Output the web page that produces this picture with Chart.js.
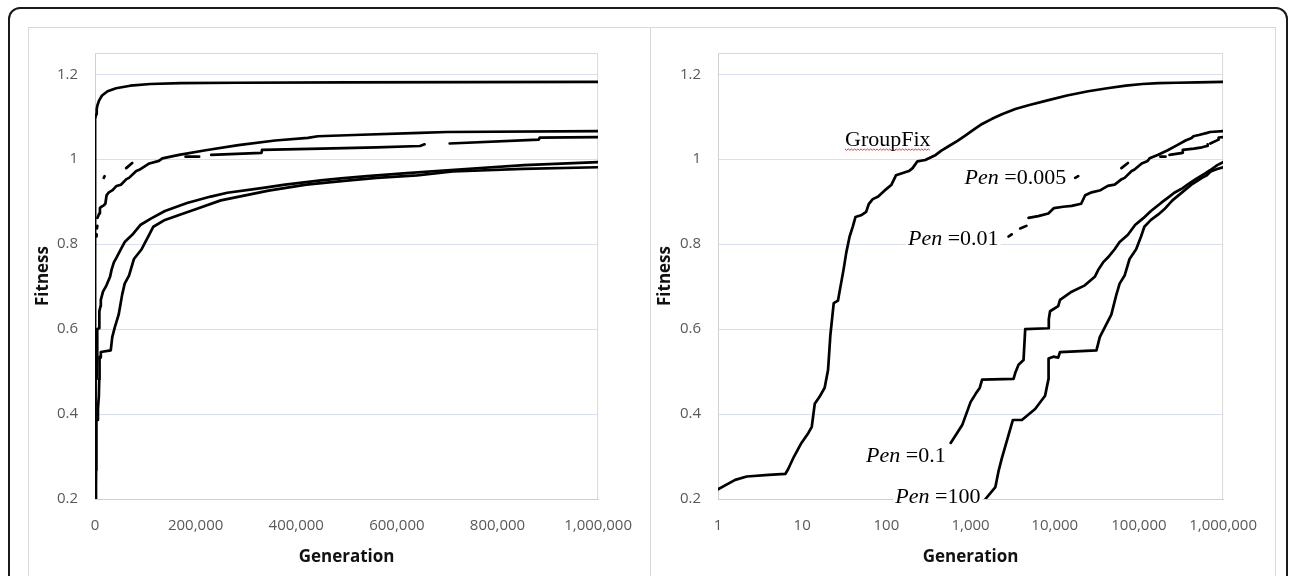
<!DOCTYPE html>
<html>
<head>
<meta charset="utf-8">
<script src="https://cdn.jsdelivr.net/npm/chart.js@4.4.1/dist/chart.umd.min.js"></script>
<style>
  body { margin: 0; background: #fff; width: 1290px; height: 576px; overflow: hidden; position: relative; }
  #frame { position: absolute; left: 8px; top: 7px; width: 1280px; height: 640px; border: 2px solid #1a1a1a; border-radius: 12px; box-sizing: border-box; }
  .box { position: absolute; top: 27px; height: 620px; border: 1px solid #d9d9d9; box-sizing: border-box; }
  #leftBox { left: 28px; width: 623px; }
  #rightBox { left: 650px; width: 626px; }
  canvas { position: absolute; top: 27px; }
  #fitLinear { left: 28px; }
  #fitLog { left: 650px; }
</style>
</head>
<body>
<div id="frame"></div>
<div class="box" id="leftBox"></div>
<div class="box" id="rightBox"></div>
<canvas id="fitLinear" width="622" height="549"></canvas>
<canvas id="fitLog" width="625" height="549"></canvas>
<script>
// 1: data (generation, fitness); null = gap in the line
const groupFixGen = [1, 1.6, 2.2, 4, 6.3, 6.8, 8, 9.8, 11.8, 13, 14.1, 16, 18.5, 20.3, 21.6, 23.7, 26.6, 28.5, 31, 33.4,
  36.6, 40, 43, 50, 57.5, 62, 68.9, 80, 99, 115, 130, 160, 185, 205, 234, 290, 386, 450, 555, 700,
  873, 1100, 1372, 1800, 2360, 3400, 4880, 8000, 14000, 25000, 42000, 70000, 110000, 170000, 280000, 500000, 1000000];
const groupFixFit = [0.223, 0.245, 0.253, 0.257, 0.259, 0.27, 0.3, 0.332, 0.355, 0.37, 0.424, 0.44, 0.462, 0.504, 0.585, 0.661, 0.667, 0.7, 0.74, 0.78,
  0.818, 0.842, 0.864, 0.868, 0.876, 0.895, 0.906, 0.912, 0.929, 0.94, 0.962, 0.968, 0.972, 0.979, 0.995, 0.998, 1.01, 1.02, 1.031, 1.043,
  1.056, 1.07, 1.083, 1.095, 1.106, 1.118, 1.127, 1.138, 1.15, 1.16, 1.167, 1.173, 1.177, 1.179, 1.18, 1.181, 1.182];

const pen0005Gen = [17500, 19000, 30000, 62000, 74000, 100000, 180000, 207000, 215000, 231000, 331000, 332000, 450000, 560000, 646000, 655000, 680000, 705000, 882000, 884000, 1000000];
const pen0005Fit = [0.956, 0.96, null, 0.979, 0.991, null, 1.006, 1.006, null, 1.01, 1.015, 1.022, 1.025, 1.028, 1.031, 1.035, null, 1.037, 1.046, 1.051, 1.052];

const pen001Gen = [2830, 3080, 3400, 3890, 4600, 4700, 4880, 6360, 8400, 9800, 12600, 15900, 20600, 23000, 27500, 35000, 42700, 51500, 62400, 67600,
  82000, 88000, 108000, 127000, 134000, 167000, 220000, 285000, 358000, 423000, 443000, 515000, 646000, 699000, 1000000];
const pen001Fit = [0.818, 0.823, null, 0.837, 0.843, null, 0.862, 0.866, 0.872, 0.885, 0.888, 0.89, 0.895, 0.915, 0.922, 0.927, 0.937, 0.94, 0.953, 0.956,
  0.972, 0.975, 0.99, 0.996, 1.002, 1.01, 1.021, 1.033, 1.044, 1.05, 1.054, 1.057, 1.062, 1.064, 1.066];

const pen01Gen = [581, 796, 1000, 1145, 1288, 1371, 3240, 3400, 3715, 4260, 4460, 8400, 8500, 8800, 11000, 11560, 15900, 22800, 29900, 33000,
  37500, 43000, 51500, 59000, 74000, 90000, 111000, 139000, 183000, 230000, 263000, 331000, 378000, 449000, 489000, 541000, 620000, 700000, 853000, 1000000];
const pen01Fit = [0.332, 0.374, 0.428, 0.447, 0.462, 0.481, 0.483, 0.497, 0.516, 0.527, 0.6, 0.602, 0.623, 0.642, 0.654, 0.669, 0.688, 0.703, 0.723, 0.74,
  0.757, 0.769, 0.788, 0.805, 0.822, 0.845, 0.86, 0.878, 0.897, 0.912, 0.921, 0.932, 0.94, 0.95, 0.955, 0.96, 0.967, 0.974, 0.986, 0.993];

const pen100Gen = [1503, 1972, 2158, 2360, 2830, 3185, 4070, 5850, 7680, 8400, 8450, 9620, 11000, 11560, 31300, 34300, 39300, 47000, 53800, 59000,
  67600, 77400, 92700, 106000, 116000, 139000, 170000, 200000, 250000, 345000, 420000, 495000, 560000, 640000, 711000, 850000, 1000000];
const pen100Fit = [0.2, 0.228, 0.267, 0.297, 0.351, 0.386, 0.386, 0.412, 0.443, 0.481, 0.531, 0.535, 0.533, 0.546, 0.55, 0.581, 0.604, 0.634, 0.68, 0.707,
  0.726, 0.765, 0.788, 0.818, 0.841, 0.857, 0.87, 0.882, 0.903, 0.926, 0.94, 0.949, 0.956, 0.962, 0.971, 0.977, 0.981];

// tick labels
const fitnessTicks = [0.2, 0.4, 0.6, 0.8, 1, 1.2];
const linearGenTicks = [0, 200000, 400000, 600000, 800000, 1000000];
const logGenTicks = [1, 10, 100, 1000, 10000, 100000, 1000000];

// curve labels on the log chart (anchor in generation / fitness units)
const noteText = ['GroupFix', 'Pen =0.005', 'Pen =0.01', 'Pen =0.1', 'Pen =100'];
const noteGen = [104, 13670, 2153, 506, 1309];
const noteFit = [1.032, 0.9425, 0.797, 0.287, 0.1915];

// 2: prepare data for chart
function toPoints(gen, fit) {
  return gen.map((g, i) => ({ x: g, y: fit[i] }));
}

const allSeries = [
  { label: 'GroupFix', gen: groupFixGen, fit: groupFixFit },
  { label: 'Pen=0.005', gen: pen0005Gen, fit: pen0005Fit },
  { label: 'Pen=0.01', gen: pen001Gen, fit: pen001Fit },
  { label: 'Pen=0.1', gen: pen01Gen, fit: pen01Fit },
  { label: 'Pen=100', gen: pen100Gen, fit: pen100Fit }
];

const tickFont = { family: '"Open Sans", sans-serif', size: 15 };
const titleFont = { family: '"Open Sans", sans-serif', size: 17, weight: 'bold' };

// light grey frame round the plot area
const plotFrame = {
  id: 'plotFrame',
  beforeDatasetsDraw(chart) {
    const a = chart.chartArea, ctx = chart.ctx;
    ctx.save();
    ctx.strokeStyle = '#d9d9d9';
    ctx.lineWidth = 1;
    ctx.beginPath();
    ctx.moveTo(a.left, a.top + 0.5);
    ctx.lineTo(a.right - 0.5, a.top + 0.5);
    ctx.lineTo(a.right - 0.5, a.bottom);
    ctx.stroke();
    ctx.restore();
  }
};

// text labels next to the curves
const curveNotes = {
  id: 'curveNotes',
  afterDraw(chart, args, opts) {
    if (!opts.show) return;
    const ctx = chart.ctx, xs = chart.scales.x, ys = chart.scales.y;
    const upright = '22px "Liberation Serif", "Times New Roman", serif';
    const italic = 'italic ' + upright;
    ctx.save();
    ctx.textBaseline = 'alphabetic';
    ctx.textAlign = 'left';
    noteText.forEach((txt, i) => {
      const px = xs.getPixelForValue(noteGen[i]);
      const py = ys.getPixelForValue(noteFit[i]);
      if (txt.startsWith('Pen ')) {
        const rest = txt.slice(3);
        ctx.font = italic;
        const w1 = ctx.measureText('Pen').width;
        ctx.font = upright;
        const w2 = ctx.measureText(rest).width;
        const left = px - w1 - w2;
        ctx.fillStyle = '#fff';
        ctx.fillRect(left - 2, py - 17, w1 + w2 + 4, 22);
        ctx.fillStyle = '#000';
        ctx.font = italic;
        ctx.fillText('Pen', left, py);
        ctx.font = upright;
        ctx.fillText(rest, left + w1, py);
      } else {
        ctx.font = upright;
        const w = ctx.measureText(txt).width;
        const left = px - w / 2;
        ctx.fillStyle = '#000';
        ctx.fillText(txt, left, py);
        // spell-check squiggle under the word
        ctx.strokeStyle = '#d42a2a';
        ctx.lineWidth = 0.9;
        ctx.beginPath();
        for (let x = left, k = 0; x <= left + w; x += 1.6, k++) {
          const y = py + 3.5 + (k % 2 ? 1.2 : -0.2);
          if (k === 0) ctx.moveTo(x, y); else ctx.lineTo(x, y);
        }
        ctx.stroke();
      }
    });
    ctx.restore();
  }
};

// 3: create the two charts
function makeChart(canvasId, xType, xTicks, padRight, yWidth, showNotes) {
  const ctx = document.getElementById(canvasId);
  return new Chart(ctx, {
    type: 'line',
    data: {
      datasets: allSeries.map(s => ({
        label: s.label,
        data: toPoints(s.gen, s.fit),
        borderColor: '#000',
        borderWidth: 2.7,
        pointRadius: 0,
        tension: 0,
        spanGaps: false,
        borderCapStyle: 'round',
        borderJoinStyle: 'round',
        fill: false
      }))
    },
    options: {
      responsive: false,
      animation: false,
      events: [],
      layout: { padding: { left: 0, top: 16, right: padRight, bottom: 0 } },
      plugins: {
        legend: { display: false },
        tooltip: { enabled: false },
        curveNotes: { show: showNotes }
      },
      scales: {
        x: {
          type: xType,
          min: xTicks[0],
          max: xTicks[xTicks.length - 1],
          afterBuildTicks: scale => { scale.ticks = xTicks.map(v => ({ value: v })); },
          afterFit: scale => { scale.height = 77; },
          grid: { display: false, drawTicks: false },
          border: { display: true, color: '#d0d0d0', width: 1 },
          ticks: {
            autoSkip: false,
            maxRotation: 0,
            padding: 18,
            color: '#595959',
            font: tickFont,
            callback: v => Number(v).toLocaleString('en-US')
          },
          title: { display: true, text: 'Generation', color: '#111', font: titleFont, padding: { top: 0, bottom: 9 } }
        },
        y: {
          type: 'linear',
          min: 0.2,
          max: 1.25,
          afterBuildTicks: scale => { scale.ticks = fitnessTicks.map(v => ({ value: v })); },
          afterFit: scale => { scale.width = yWidth; },
          grid: {
            drawTicks: false,
            color: c => (c.tick && c.tick.value === 0.2) ? 'rgba(0,0,0,0)' : '#d8dfee',
            lineWidth: 1
          },
          border: { display: true, color: '#d0d0d0', width: 1 },
          ticks: {
            padding: 17,
            color: '#595959',
            font: tickFont,
            callback: v => String(Math.round(v * 10) / 10)
          },
          title: { display: true, text: 'Fitness', color: '#111', font: titleFont, padding: { top: 5, bottom: 0 } }
        }
      }
    },
    plugins: [plotFrame, curveNotes]
  });
}

makeChart('fitLinear', 'linear', linearGenTicks, 47, 67, false);
makeChart('fitLog', 'logarithmic', logGenTicks, 49, 68, true);
</script>
</body>
</html>
